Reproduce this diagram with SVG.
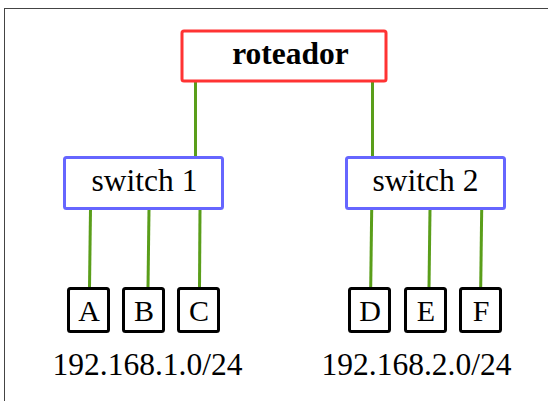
<svg xmlns="http://www.w3.org/2000/svg" width="548" height="401" viewBox="0 0 548 401">
<style>
text{font-family:"Liberation Serif","Times New Roman",serif;fill:#000;text-anchor:middle}
.sw{fill:#fff;stroke:#6666ff;stroke-width:3}
.host{fill:#fff;stroke:#000;stroke-width:3}
.link{stroke:#5a9e1a;stroke-width:3;fill:none}
</style>
<rect x="4.5" y="8.5" width="560" height="410" fill="#fff" stroke="#444" stroke-width="1"/>
<g id="connectors">
<line class="link" x1="195.5" y1="81" x2="195.5" y2="157"/>
<line class="link" x1="372.5" y1="81" x2="372.5" y2="157"/>
<line class="link" x1="90.5" y1="209" x2="89.5" y2="288"/>
<line class="link" x1="149" y1="209" x2="148" y2="288"/>
<line class="link" x1="200" y1="209" x2="199.5" y2="288"/>
<line class="link" x1="371.7" y1="209" x2="370.7" y2="288"/>
<line class="link" x1="430" y1="209" x2="429" y2="288"/>
<line class="link" x1="481.7" y1="209" x2="480.7" y2="288"/>
</g>
<g id="roteador">
<rect x="182" y="31" width="204" height="50" rx="2" fill="#fff" stroke="#ff3333" stroke-width="3"/>
<text x="290.5" y="64" font-size="31.5" font-weight="bold">roteador</text>
</g>
<g id="switch1">
<rect class="sw" x="64.5" y="157.5" width="158" height="51" rx="2"/>
<text x="144.5" y="191" font-size="31.5">switch 1</text>
</g>
<g id="switch2">
<rect class="sw" x="346.5" y="157.5" width="158" height="51" rx="2"/>
<text x="425.5" y="191" font-size="31.5">switch 2</text>
</g>
<g id="A"><rect class="host" x="68.5" y="288.5" width="40" height="43" rx="2"/><text x="89" y="321" font-size="30">A</text></g>
<g id="B"><rect class="host" x="123.5" y="288.5" width="40" height="43" rx="2"/><text x="144" y="321" font-size="30">B</text></g>
<g id="C"><rect class="host" x="178.5" y="288.5" width="40" height="43" rx="2"/><text x="199" y="321" font-size="30">C</text></g>
<g id="D"><rect class="host" x="349.5" y="288.5" width="40" height="43" rx="2"/><text x="370" y="321" font-size="30">D</text></g>
<g id="E"><rect class="host" x="405.5" y="288.5" width="40" height="43" rx="2"/><text x="426" y="321" font-size="30">E</text></g>
<g id="F"><rect class="host" x="460.5" y="288.5" width="40" height="43" rx="2"/><text x="481" y="321" font-size="30">F</text></g>
<g id="subnet1"><text x="147.5" y="375" font-size="31.5">192.168.1.0/24</text></g>
<g id="subnet2"><text x="416.5" y="375" font-size="31.5">192.168.2.0/24</text></g>
</svg>
